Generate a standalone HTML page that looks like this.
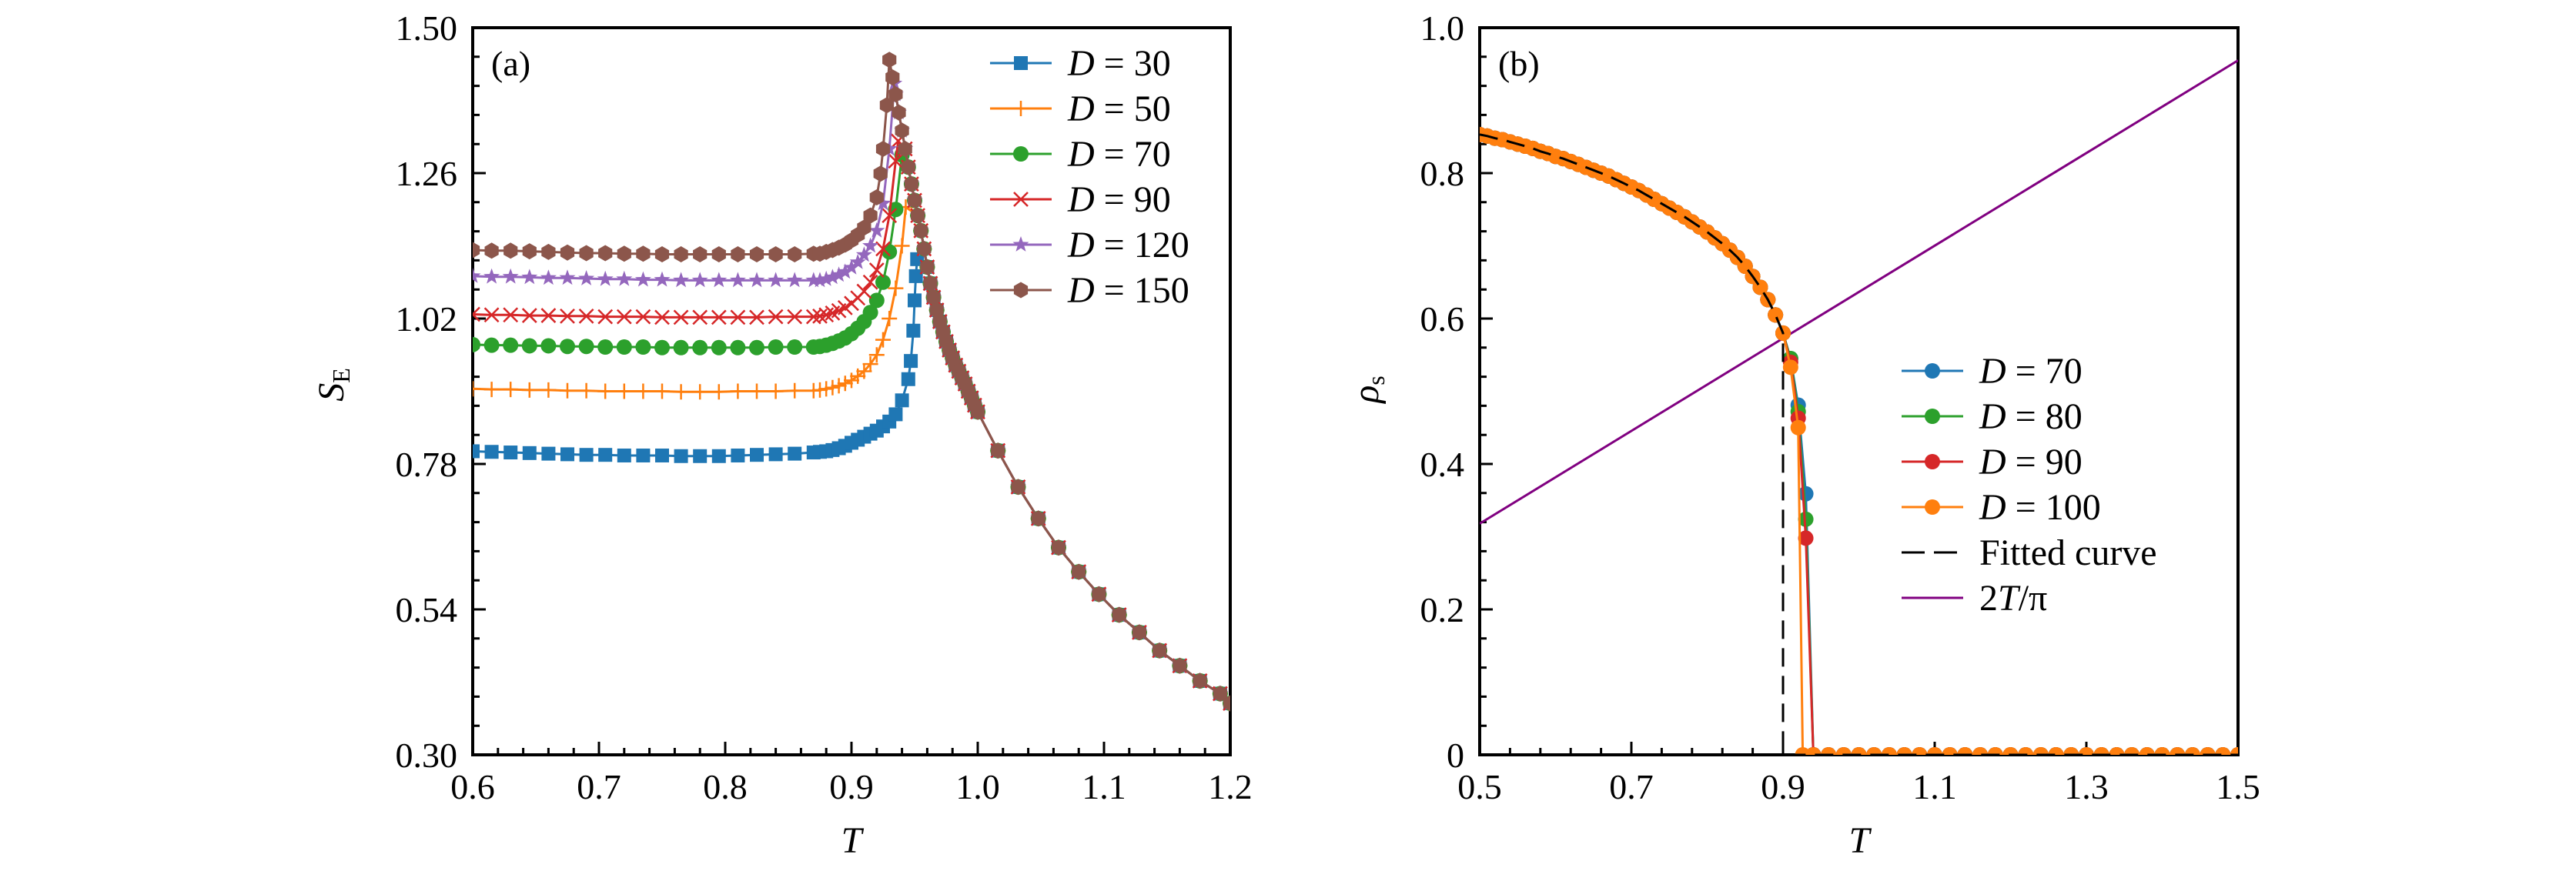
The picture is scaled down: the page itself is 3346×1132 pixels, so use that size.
<!DOCTYPE html>
<html><head><meta charset="utf-8"><style>
html,body{margin:0;padding:0;background:#fff;}
svg{display:block;}
svg text{font-family:"Liberation Serif","DejaVu Serif",serif !important;fill:#000;}
</style></head><body>
<svg id="fig" width="3346" height="1132" viewBox="0 0 3346 1132" xmlns="http://www.w3.org/2000/svg" font-family="Liberation Serif, serif">
<defs>
<clipPath id="clipA"><rect x="614" y="36" width="984" height="945"/></clipPath>
<clipPath id="clipB"><rect x="1922" y="36" width="985" height="945"/></clipPath>
</defs>
<g id="panelA"></g>
<g id="panelB"></g>
</svg>
<script>
// ---------- Panel (a) data ----------
const aXTicks = [0.6,0.7,0.8,0.9,1.0,1.1,1.2];
const aXTickLabels = ["0.6","0.7","0.8","0.9","1.0","1.1","1.2"];
const aYTicks = [0.30,0.54,0.78,1.02,1.26,1.50];
const aYTickLabels = ["0.30","0.54","0.78","1.02","1.26","1.50"];
const tFlat = [0.600,0.615,0.630,0.645,0.660,0.675,0.690,0.705,0.720,0.735,0.750,0.765,0.780,0.795,0.810,0.825,0.840,0.855,0.870];
const commonT = [0.9300,0.9325,0.9350,0.9375,0.9400,0.9425,0.9450,0.9475,0.9500,0.9525,0.9550,0.9575,0.9600,0.9625,0.9650,0.9675,0.9700,0.9725,0.9750,0.9775,0.9800,0.9825,0.9850,0.9875,0.9900,0.9925,0.9950,0.9975,1.0000];
const commonV = [1.447,1.418,1.390,1.360,1.330,1.300,1.270,1.242,1.215,1.190,1.165,1.135,1.105,1.078,1.055,1.034,1.015,0.998,0.982,0.968,0.955,0.943,0.933,0.922,0.912,0.900,0.889,0.877,0.866];
const tailT = [1.016,1.032,1.048,1.064,1.080,1.096,1.112,1.128,1.144,1.160,1.176,1.192,1.200];
const tailV = [0.802,0.742,0.690,0.642,0.602,0.565,0.531,0.502,0.472,0.447,0.422,0.401,0.385];
const seriesLabels = ["30","50","70","90","120","150"];
const flat30 = [.801,.800,.799,.798,.797,.796,.795,.795,.794,.794,.794,.793,.793,.793,.794,.795,.796,.797,.799];
const flat50 = [.904,.903,.903,.902,.902,.901,.901,.900,.900,.900,.900,.899,.899,.899,.900,.900,.900,.901,.901];
const flat70 = [.977,.976,.976,.975,.975,.974,.974,.973,.973,.973,.972,.972,.972,.972,.972,.972,.973,.973,.973];
const flat90 = [1.027,1.026,1.026,1.025,1.025,1.024,1.024,1.023,1.023,1.023,1.022,1.022,1.022,1.022,1.022,1.022,1.023,1.023,1.023];
const flat120 = [1.090,1.089,1.089,1.088,1.087,1.087,1.086,1.085,1.085,1.084,1.084,1.083,1.083,1.083,1.083,1.083,1.083,1.083,1.083];
const flat150 = [1.133,1.132,1.132,1.131,1.130,1.129,1.128,1.128,1.127,1.127,1.126,1.126,1.126,1.126,1.126,1.126,1.126,1.126,1.127];
const trT30 = [.875,.88,.885,.89,.895,.90,.905,.91,.915,.92,.925,.93,.935,.94,.945,.947,.949,.950,.951,.952];
const trV30 = [.800,.801,.803,.806,.810,.815,.820,.825,.830,.835,.842,.850,.862,.885,.920,.950,1.000,1.050,1.090,1.118];
const trT50 = [.875,.88,.885,.89,.895,.90,.905,.91,.915,.92,.925,.93,.935,.94,.943];
const trV50 = [.902,.904,.906,.909,.913,.918,.925,.933,.945,.96,.985,1.02,1.07,1.14,1.204];
const trT70 = [.875,.88,.885,.89,.895,.90,.905,.91,.915,.92,.925,.93,.935,.94];
const trV70 = [.974,.976,.979,.983,.988,.995,1.004,1.015,1.03,1.05,1.08,1.13,1.20,1.29];
const trT90 = [.875,.88,.885,.89,.895,.90,.905,.91,.915,.92,.925,.93,.935,.937];
const trV90 = [1.024,1.026,1.029,1.033,1.038,1.045,1.054,1.065,1.08,1.10,1.135,1.19,1.28,1.313];
const trT120 = [.875,.88,.885,.89,.895,.90,.905,.91,.915,.92,.925,.93,.934];
const trV120 = [1.083,1.085,1.088,1.092,1.097,1.104,1.113,1.125,1.14,1.165,1.21,1.30,1.408];
const trT150 = [.875,.88,.885,.89,.895,.90,.905,.91,.915,.92,.923,.925,.928,.930];
const trV150 = [1.127,1.130,1.133,1.137,1.142,1.149,1.158,1.17,1.19,1.22,1.259,1.30,1.372,1.447];

// ---------- Panel (b) data ----------
const bXTicks = [0.5,0.7,0.9,1.1,1.3,1.5];
const bXTickLabels = ["0.5","0.7","0.9","1.1","1.3","1.5"];
const bYTicks = [0,0.2,0.4,0.6,0.8,1.0];
const bYTickLabels = ["0","0.2","0.4","0.6","0.8","1.0"];
const bLowT = [0.50,0.51,0.52,0.53,0.54,0.55,0.56,0.57,0.58,0.59,0.60,0.61,0.62,0.63,0.64,0.65,0.66,0.67,0.68,0.69,0.70,0.71,0.72,0.73,0.74,0.75,0.76,0.77,0.78,0.79,0.80,0.81,0.82,0.83,0.84,0.85,0.86,0.87,0.88,0.89,0.90];
const bLowV = [.853,.851,.848,.846,.843,.840,.837,.834,.830,.827,.823,.820,.816,.812,.808,.804,.800,.796,.791,.786,.781,.776,.770,.764,.758,.752,.746,.740,.733,.726,.719,.711,.703,.694,.684,.672,.658,.643,.626,.605,.580];
const bTailT70 = [.91,.92,.93,.94], bTailV70 = [.545,.481,.359,0];
const bTailT80 = [.91,.92,.93,.94], bTailV80 = [.545,.472,.324,0];
const bTailT90 = [.91,.92,.93,.94], bTailV90 = [.540,.463,.298,0];
const bTailT100 = [.91,.92,.926], bTailV100 = [.533,.450,0];
const zeroT = [0.94,0.96,0.98,1.00,1.02,1.04,1.06,1.08,1.10,1.12,1.14,1.16,1.18,1.20,1.22,1.24,1.26,1.28,1.30,1.32,1.34,1.36,1.38,1.40,1.42,1.44,1.46,1.48,1.50];
const fitTc = 0.90;
const lineT = [0.5,1.5];
const lineV = [0.318,0.955];

const NS = "http://www.w3.org/2000/svg";
function mk(tag, attrs, parent){ const e=document.createElementNS(NS,tag); for(const k in attrs) e.setAttribute(k,attrs[k]); parent.appendChild(e); return e; }

function marker(g, type, x, y, color, name){
  let e;
  if(type==="square"){ e=mk("rect",{x:x-9,y:y-9,width:18,height:18,fill:color},g); }
  else if(type==="circle"){ e=mk("circle",{cx:x,cy:y,r:10,fill:color},g); }
  else if(type==="plus"){ e=mk("path",{d:`M${x-10},${y}H${x+10}M${x},${y-10}V${y+10}`,stroke:color,"stroke-width":2.5,fill:"none"},g); }
  else if(type==="x"){ e=mk("path",{d:`M${x-9},${y-9}L${x+9},${y+9}M${x-9},${y+9}L${x+9},${y-9}`,stroke:color,"stroke-width":2.5,fill:"none"},g); }
  else if(type==="star"){ let p=[]; for(let i=0;i<10;i++){const r=i%2?4.5:11;const a=-Math.PI/2+i*Math.PI/5;p.push((x+r*Math.cos(a)).toFixed(1)+","+(y+r*Math.sin(a)).toFixed(1));} e=mk("polygon",{points:p.join(" "),fill:color},g); }
  else { let p=[]; for(let i=0;i<6;i++){const a=Math.PI/6+i*Math.PI/3;p.push((x+10.5*Math.cos(a)).toFixed(1)+","+(y+10.5*Math.sin(a)).toFixed(1));} e=mk("polygon",{points:p.join(" "),fill:color},g); }
  
  
  return e;
}

function txt(g, attrs){ attrs["font-family"]="Liberation Serif, serif"; return mk("text",attrs,g); }

function axes(g, L, R, T, B, xs, ys, xTicks, xLabels, xMinorStep, xMin, xMax, yTicks, yLabels, yMinorStep, yMin, yMax, prefix){
  const fr = mk("rect",{x:L,y:T,width:R-L,height:B-T,fill:"none",stroke:"#000","stroke-width":4},g);
  
  
  let d="";
  for(let v=xMin; v<=xMax+1e-9; v+=xMinorStep){ const x=xs(v); d+=`M${x},${B}V${B-9}`; }
  for(let v=yMin; v<=yMax+1e-9; v+=yMinorStep){ const y=ys(v); d+=`M${L},${y}H${L+9}`; }
  xTicks.forEach(v=>{ d+=`M${xs(v)},${B}V${B-17}`; });
  yTicks.forEach(v=>{ d+=`M${L},${ys(v)}H${L+17}`; });
  const tk = mk("path",{d:d,stroke:"#000","stroke-width":3,fill:"none"},g);
  
  
  xTicks.forEach((v,i)=>{ const t=txt(g,{x:xs(v),y:B+57,"font-size":46,"text-anchor":"middle"}); t.textContent=xLabels[i];
    
     });
  yTicks.forEach((v,i)=>{ const t=txt(g,{x:L-20,y:ys(v)+16,"font-size":46,"text-anchor":"end"}); t.textContent=yLabels[i];
    
     });
}

function pathOf(ts, vs, xs, ys){ return ts.map((t,i)=>(i?"L":"M")+xs(t).toFixed(1)+","+ys(vs[i]).toFixed(1)).join(""); }

// ---------- Panel (a) ----------
(function(){
  const g=document.getElementById("panelA");
  const L=614,R=1598,T=36,B=981;
  const xs=v=>L+(v-0.6)/0.6*(R-L);
  const ys=v=>B-(v-0.30)/1.20*(B-T);
  axes(g,L,R,T,B,xs,ys,aXTicks,aXTickLabels,0.02,0.6,1.2,aYTicks,aYTickLabels,0.048,0.30,1.50,"a");
  const colors=["#1f77b4","#ff7f0e","#2ca02c","#d62728","#9467bd","#8c564b"];
  const types=["square","plus","circle","x","star","hex"];
  const flats=[flat30,flat50,flat70,flat90,flat120,flat150];
  const trTs=[trT30,trT50,trT70,trT90,trT120,trT150];
  const trVs=[trV30,trV50,trV70,trV90,trV120,trV150];
  const dg=mk("g",{"clip-path":"url(#clipA)"},g);
  
  
  for(let s=0;s<6;s++){
    const tr=trTs[s], tv=trVs[s];
    const pT=tr[tr.length-1], pV=tv[tv.length-1];
    const cT=[], cV=[];
    commonT.forEach((t,i)=>{ if(t>pT+1e-9 && commonV[i]<=pV+1e-9){ cT.push(t); cV.push(commonV[i]); } });
    const ts=tFlat.concat(tr, cT, tailT);
    const vs=flats[s].concat(tv, cV, tailV);
    const sg=mk("g",{},dg);
    
    
    const p=mk("path",{d:pathOf(ts,vs,xs,ys),stroke:colors[s],"stroke-width":3,fill:"none"},sg);
    
    
    ts.forEach((t,i)=>marker(sg,types[s],xs(t),ys(vs[i]),colors[s],'point-d'+seriesLabels[s]));
  }
  const lab=txt(g,{x:638,y:98,"font-size":46}); lab.textContent="(a)";
  
  
  const yl=txt(g,{x:0,y:0,"font-size":48,"font-style":"italic",transform:"translate(446,500) rotate(-90)","text-anchor":"middle"});
  yl.innerHTML='S<tspan font-size="32" font-style="normal" dy="8">E</tspan>';
  
  
  const xl=txt(g,{x:1106,y:1108,"font-size":48,"font-style":"italic","text-anchor":"middle"}); xl.textContent="T";
  
  
  const lg=mk("g",{},g);
  
  
  for(let s=0;s<6;s++){
    const y=82+s*59;
    const eg=mk("g",{},lg);
    
    
    mk("line",{x1:1286,y1:y,x2:1366,y2:y,stroke:colors[s],"stroke-width":3},eg);
    marker(eg,types[s],1326,y,colors[s],'legend-marker');
    const t=txt(eg,{x:1387,y:y+16,"font-size":48});
    t.innerHTML='<tspan font-style="italic">D</tspan> = '+seriesLabels[s];
  }
})();

// ---------- Panel (b) ----------
(function(){
  const g=document.getElementById("panelB");
  const L=1922,R=2907,T=36,B=981;
  const xs=v=>L+(v-0.5)/1.0*(R-L);
  const ys=v=>B-v/1.0*(B-T);
  axes(g,L,R,T,B,xs,ys,bXTicks,bXTickLabels,0.04,0.5,1.5,bYTicks,bYTickLabels,0.04,0,1.0,"b");
  const dg=mk("g",{"clip-path":"url(#clipB)"},g);
  
  
  const pl=mk("path",{d:pathOf(lineT,lineV,xs,ys),stroke:"#800080","stroke-width":3,fill:"none"},dg);
  
  
  const labels=["70","80","90","100"];
  const colors=["#1f77b4","#2ca02c","#d62728","#ff7f0e"];
  const tts=[bTailT70,bTailT80,bTailT90,bTailT100];
  const tvs=[bTailV70,bTailV80,bTailV90,bTailV100];
  for(let s=0;s<4;s++){
    const ts=bLowT.concat(tts[s], zeroT);
    const vs=bLowV.concat(tvs[s], zeroT.map(()=>0));
    const sg=mk("g",{},dg);
    
    
    const p=mk("path",{d:pathOf(ts,vs,xs,ys),stroke:colors[s],"stroke-width":3,fill:"none"},sg);
    
    
    ts.forEach((t,i)=>marker(sg,"circle",xs(t),ys(vs[i]),colors[s],'point-d'+labels[s]));
  }
  const fd=pathOf(bLowT,bLowV,xs,ys)+`L${xs(fitTc)},${ys(0)}L${xs(1.5)},${ys(0)}`;
  const fp=mk("path",{d:fd,stroke:"#000","stroke-width":3,fill:"none","stroke-dasharray":"24,12"},dg);
  
  
  const lab=txt(g,{x:1946,y:98,"font-size":46}); lab.textContent="(b)";
  
  
  const yl=txt(g,{x:0,y:0,"font-size":48,"font-style":"italic",transform:"translate(1790,506) rotate(-90)","text-anchor":"middle"});
  yl.innerHTML='ρ<tspan font-size="32" font-style="normal" dy="8">s</tspan>';
  
  
  const xl=txt(g,{x:2415,y:1108,"font-size":48,"font-style":"italic","text-anchor":"middle"}); xl.textContent="T";
  
  
  const lg=mk("g",{},g);
  
  
  const ly=[482,541,600,659,718,777];
  for(let s=0;s<6;s++){
    const y=ly[s];
    const eg=mk("g",{},lg);
    
    
    if(s<4){
      mk("line",{x1:2470,y1:y,x2:2550,y2:y,stroke:colors[s],"stroke-width":3},eg);
      marker(eg,"circle",2510,y,colors[s],'legend-marker');
    } else if(s===4){
      mk("line",{x1:2470,y1:y,x2:2550,y2:y,stroke:"#000","stroke-width":3,"stroke-dasharray":"30,12"},eg);
    } else {
      mk("line",{x1:2470,y1:y,x2:2550,y2:y,stroke:"#800080","stroke-width":3},eg);
    }
    const t=txt(eg,{x:2571,y:y+16,"font-size":48});
    if(s<4) t.innerHTML='<tspan font-style="italic">D</tspan> = '+labels[s];
    else if(s===4) t.textContent="Fitted curve";
    else t.innerHTML='2<tspan font-style="italic">T</tspan>/π';
  }
})();
</script>
</body></html>
